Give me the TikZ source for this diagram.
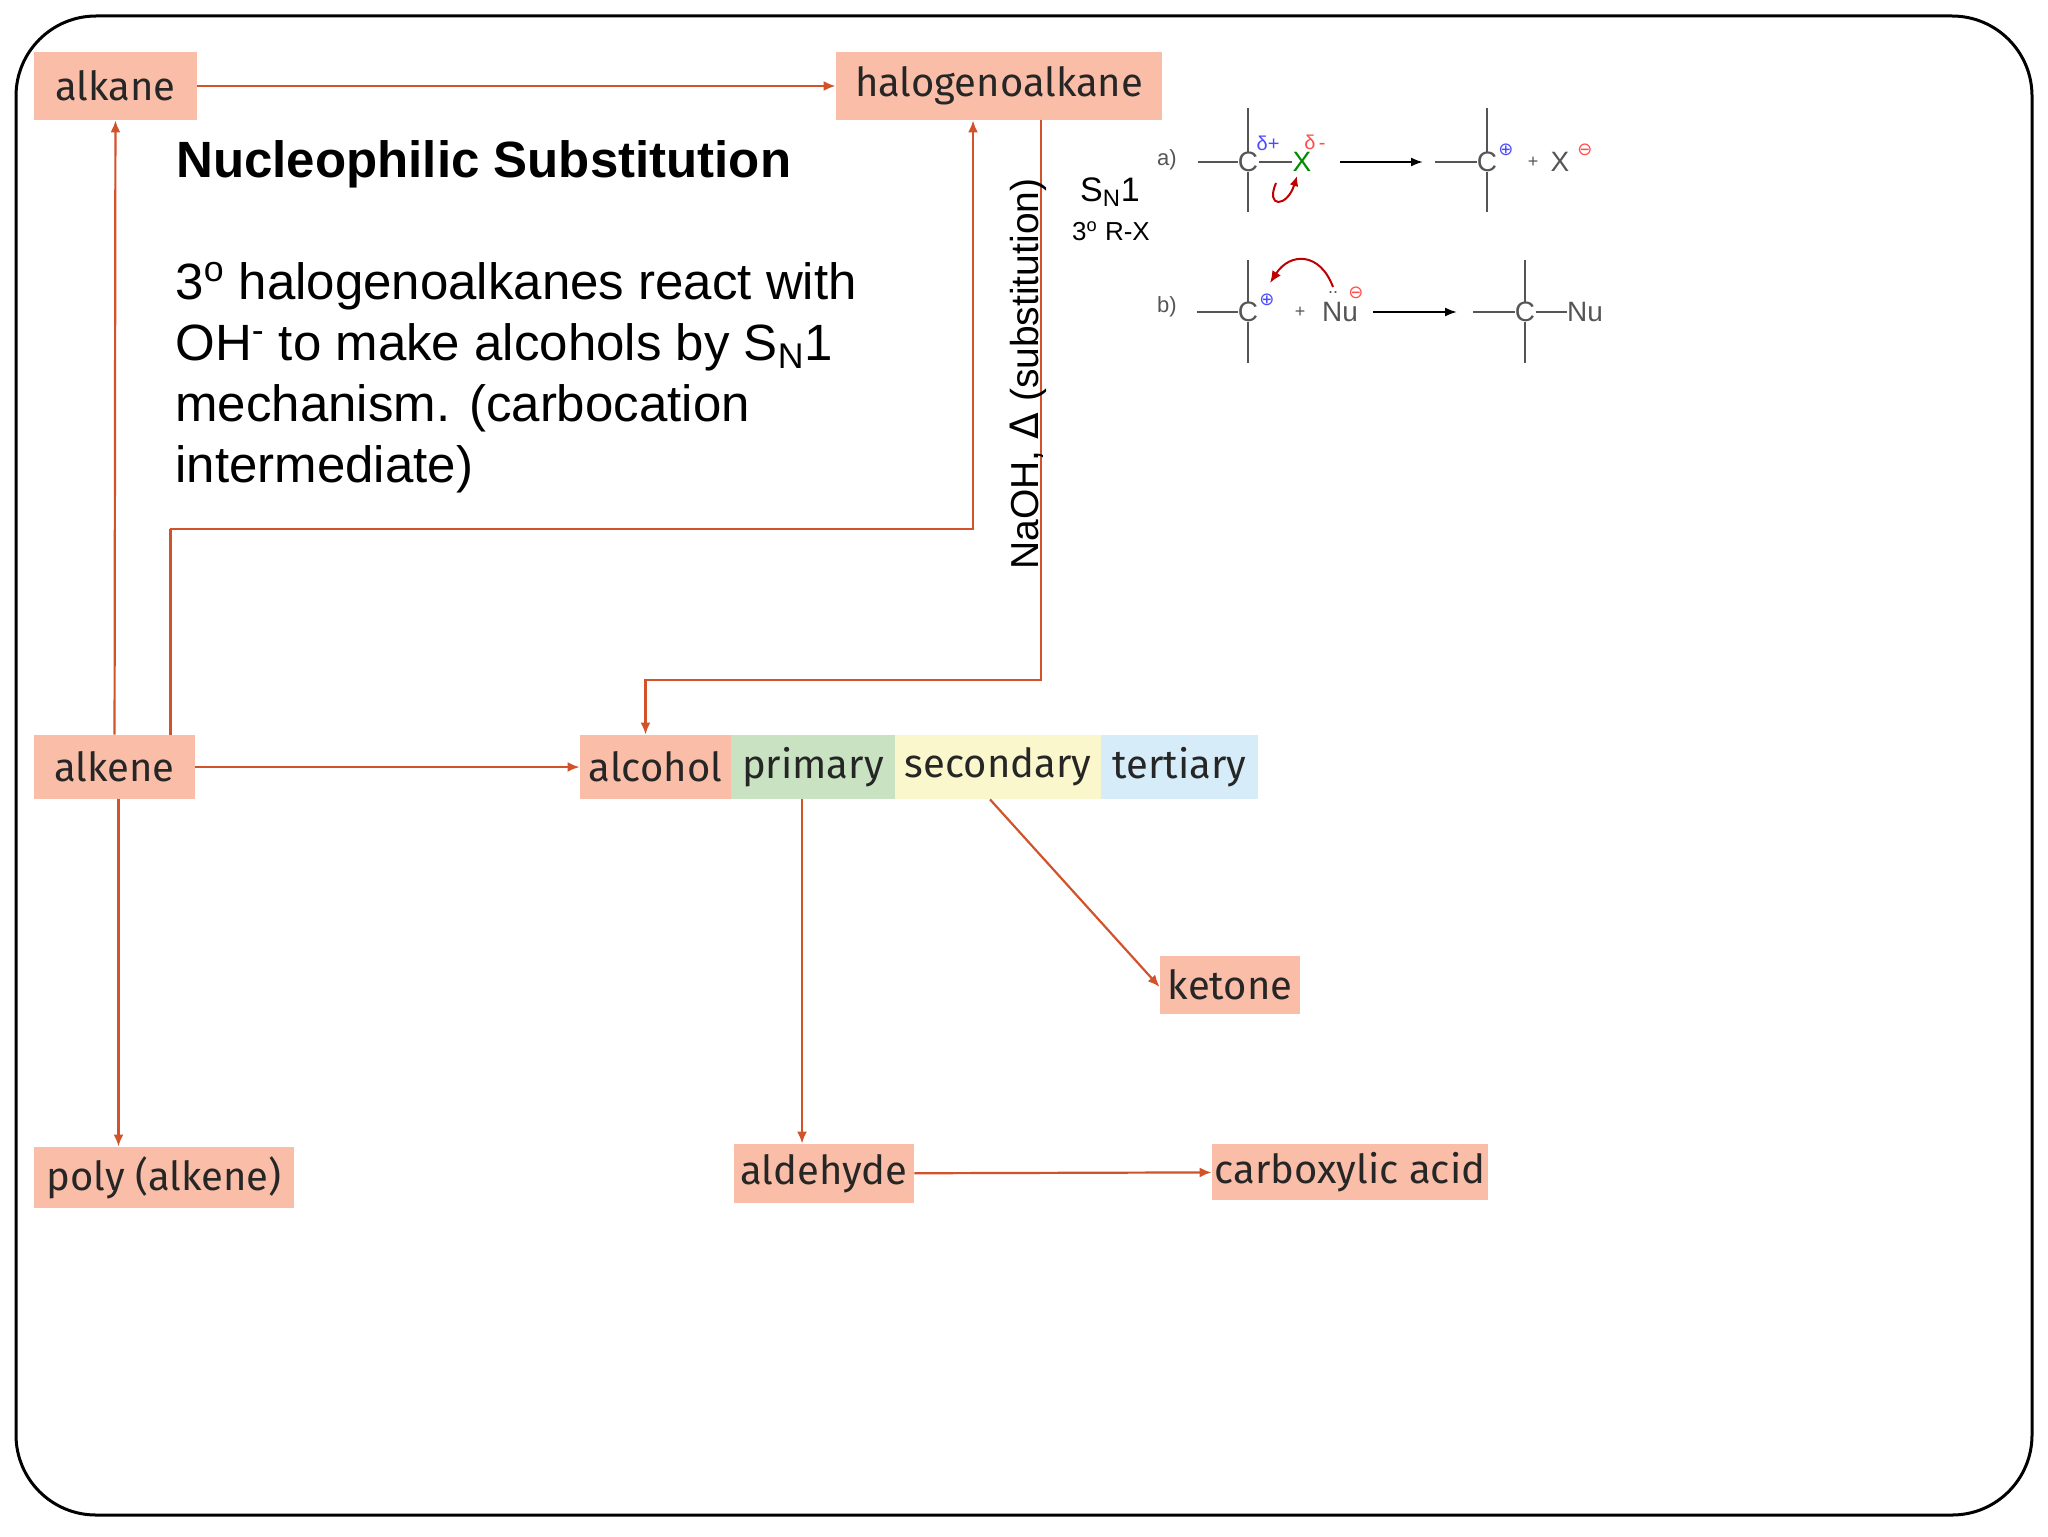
\documentclass[tikz,border=0pt]{standalone}
\usepackage{fontspec}
\setmainfont{Liberation Sans}
\newfontfamily\fira{Fira Sans}
\newfontfamily\djv{DejaVu Sans}
\usetikzlibrary{arrows.meta,calc}
\definecolor{salmon}{HTML}{F9BDA8}
\definecolor{arrred}{HTML}{D2522A}
\definecolor{prim}{HTML}{C9E3C2}
\definecolor{sec}{HTML}{FBF7CC}
\definecolor{tert}{HTML}{D6ECF8}
\definecolor{mech}{HTML}{555555}
\begin{document}
\begin{tikzpicture}[x=0.5pt,y=-0.5pt,
  box/.style={fill=salmon,inner sep=0pt,font=\fira\fontsize{20}{24}\selectfont,text=black!85},
  arr/.style={draw=arrred,line width=1.1pt,-{Latex[length=6pt,width=5pt]}},
  bond/.style={draw=mech,line width=1.4pt},
  mt/.style={font=\fontsize{14}{16}\selectfont,text=mech,inner sep=0pt},
  chg/.style={mt,font=\djv\fontsize{9}{10}\selectfont}]
\useasboundingbox (0,0) rectangle (2048,1536);
\draw[line width=1.5pt,rounded corners=40pt] (16,16) rectangle (2032,1515);
% boxes
\node[box,minimum width=81.5pt,minimum height=34pt] (alkane) at (115.5,86) {alkane};
\node[box,minimum width=163pt,minimum height=34pt] (halo) at (999,86) {halogenoalkane};
\node[box,minimum width=80.5pt,minimum height=32pt] (alkene) at (114.5,767) {alkene};
\node[box,minimum width=75.5pt,minimum height=32pt] (alcohol) at (655.5,767) {alcohol};
\node[box,fill=prim,minimum width=82pt,minimum height=32pt] (primary) at (813,767) {primary};
\node[box,fill=sec,minimum width=103pt,minimum height=32pt] (secondary) at (998,767) {secondary};
\node[box,fill=tert,minimum width=78.5pt,minimum height=32pt] (tertiary) at (1179.5,767) {tertiary};
\node[box,minimum width=70pt,minimum height=29pt] (ketone) at (1230,985) {ketone};
\node[box,minimum width=130pt,minimum height=30.5pt] (poly) at (164,1177.5) {poly (alkene)};
\node[box,minimum width=90pt,minimum height=29.5pt] (aldehyde) at (824,1173.5) {aldehyde};
\node[box,minimum width=138pt,minimum height=28pt] (carb) at (1350,1172) {carboxylic acid};
% arrows
\draw[arr] (alkane) -- (halo);
\draw[arr] (alkene) -- (alkane);
\draw[arr] (alkene) -- (alcohol);
\draw[arr] (aldehyde) -- (carb);
\draw[arr] ([xshift=2pt]alkene.south) -- ([xshift=2pt]alkene.south |- poly.north);
\draw[arr] ([xshift=-5.5pt]primary.south) -- ([xshift=-5.5pt]primary.south |- aldehyde.north);
\draw[arr] ([xshift=-4pt]secondary.south) -- ([yshift=-1pt]ketone.west);
\coordinate (c1) at (170,529);
\coordinate (c2) at (1041,680);
\draw[arr] ([xshift=28pt]alkene.north) |- (c1) -| ([xshift=-13pt]halo.south);
\draw[arr] ([xshift=21pt]halo.south) |- (c2) -| ([xshift=-5pt]alcohol.north);
% texts
\node[anchor=base west,inner sep=0pt,font=\bfseries\fontsize{25.5}{30}\selectfont] (title) at (176,177) {Nucleophilic Substitution};
\node[anchor=north west,inner sep=0pt,align=left,font=\fontsize{25.5}{30.5}\selectfont] (body) at (175,262)
 {3\textsuperscript{o} halogenoalkanes react with\\OH\textsuperscript{-} to make alcohols by S\textsubscript{N}1\\mechanism. (carbocation\\intermediate)};
\node[rotate=90,inner sep=0pt,font=\fontsize{19.5}{22}\selectfont] (naoh) at (1028,374) {NaOH, {\djv Δ} (substitution)};
\node[inner sep=0pt,font=\fontsize{17}{20}\selectfont] (sn1) at (1110,192) {S\textsubscript{N}1};
\node[inner sep=0pt,font=\fontsize{13}{15}\selectfont] (rx) at (1111,231) {3\textsuperscript{o} R-X};
% mechanism a
\node[mt,font=\fontsize{11}{12}\selectfont] (la) at (1167,160) {a)};
\node[mt] (ca) at (1248,162) {C};
\draw[bond] (1248,108) -- (ca.north); \draw[bond] (ca.south) -- (1248,212);
\draw[bond] (1198,162) -- (ca.west);
\node[mt,text=green!55!black] (xa) at (1302,162) {X};
\draw[bond] (ca.east) -- (xa.west);
\node[mt,text=blue!70,font=\fontsize{10}{11}\selectfont] (dp) at (1268,143) {δ+};
\node[mt,text=red!70,font=\fontsize{10}{11}\selectfont] (dm) at (1315,142) {δ\,-};
\draw[red!75!black,line width=1pt,-{Latex[length=5pt,width=4.5pt]}] (1276,183) .. controls (1265,208) and (1287,208) .. (1297,176);
\draw[black,line width=1pt,-{Latex[length=6pt,width=4.5pt]}] (1340,162) -- (1423,162);
\node[mt] (cb) at (1487,162) {C};
\draw[bond] (1487,108) -- (cb.north); \draw[bond] (cb.south) -- (1487,212);
\draw[bond] (1435,162) -- (cb.west);
\node[chg,text=blue!70] (pa) at (1506,150) {⊕};
\node[mt,font=\fontsize{9}{10}\selectfont] (plus1) at (1533,162) {+};
\node[mt] (xm) at (1560,162) {X};
\node[chg,text=red!70] (ma) at (1585,150) {⊖};
% mechanism b
\node[mt,font=\fontsize{11}{12}\selectfont] (lb) at (1167,307) {b)};
\node[mt] (cc) at (1248,312) {C};
\draw[bond] (1248,260) -- (cc.north); \draw[bond] (cc.south) -- (1248,363);
\draw[bond] (1197,312) -- (cc.west);
\node[chg,text=blue!70] (pb) at (1267,300) {⊕};
\node[mt,font=\fontsize{9}{10}\selectfont] (plus2) at (1300,312) {+};
\node[mt] (nu) at (1340,312) {Nu};
\node[mt,font=\fontsize{9}{10}\selectfont] (dots) at (1333,293) {..};
\node[chg,text=red!70] (mb) at (1356,293) {⊖};
\draw[red!75!black,line width=1pt,-{Latex[length=6pt,width=5pt]}] (1333,287) .. controls (1320,252) and (1290,252) .. (1270,283);
\draw[black,line width=1pt,-{Latex[length=6pt,width=4.5pt]}] (1373,312) -- (1457,312);
\node[mt] (cd) at (1525,312) {C};
\draw[bond] (1525,260) -- (cd.north); \draw[bond] (cd.south) -- (1525,363);
\draw[bond] (1473,312) -- (cd.west);
\node[mt] (nu2) at (1585,312) {Nu};
\draw[bond] (cd.east) -- (nu2.west);
\end{tikzpicture}
\end{document}
